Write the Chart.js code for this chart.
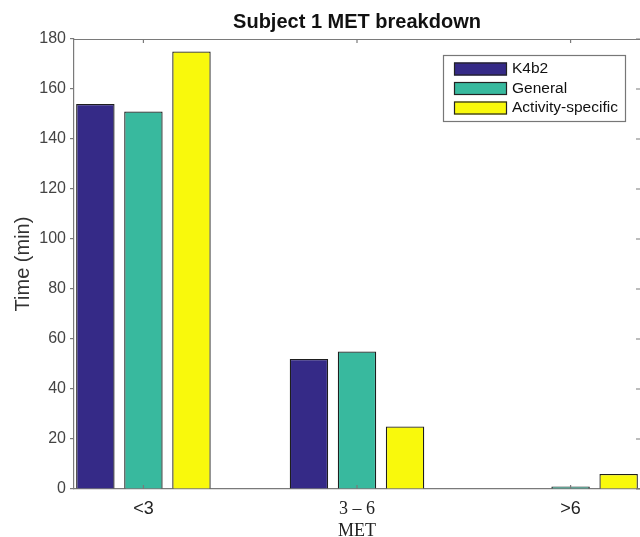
<!DOCTYPE html>
<html>
<head>
<meta charset="utf-8">
<script src="https://cdn.jsdelivr.net/npm/chart.js@4.4.0/dist/chart.umd.min.js"></script>
<style>
  body { margin: 0; background: #fff; }
  #metChart { display: block; }
</style>
</head>
<body>
<canvas id="metChart" width="640" height="537"></canvas>
<script>
// MET categories and times (min) per method
const categories = ['<3', '3 \u2013 6', '>6'];
const k4b2 = [154, 52, 0];
const general = [151, 55, 1];
const activitySpecific = [175, 25, 6];
const yTicks = [0, 20, 40, 60, 80, 100, 120, 140, 160, 180];

const chartTitle = 'Subject 1 MET breakdown';
const seriesNames = ['K4b2', 'General', 'Activity-specific'];
const seriesColors = ['#352a87', '#38b99e', '#f9f90c'];
const axisColor = '#7a7a7a';
const sans = '"Liberation Sans", Arial, sans-serif';
const serif = '"Liberation Serif", "Times New Roman", serif';

function toPoints(values) {
    return values.map((v, i) => ({ x: i + 1, y: v }));
}

// title over the plot box, box top line, inward ticks and the legend
const matlabFrame = {
    id: 'matlabFrame',
    afterDraw(chart) {
        const ctx = chart.ctx;
        const area = chart.chartArea;
        const xs = chart.scales.x;
        const ys = chart.scales.y;
        ctx.save();

        ctx.fillStyle = '#111';
        ctx.font = 'bold 20px ' + sans;
        ctx.textAlign = 'center';
        ctx.textBaseline = 'middle';
        ctx.fillText(chartTitle, (area.left + area.right) / 2, 22);

        ctx.strokeStyle = axisColor;
        ctx.lineWidth = 1.2;
        ctx.beginPath();
        ctx.moveTo(area.left, area.top + 0.5);
        ctx.lineTo(area.right, area.top + 0.5);
        for (let i = 0; i < categories.length; i++) {
            const px = xs.getPixelForValue(i + 1);
            ctx.moveTo(px, area.top);
            ctx.lineTo(px, area.top + 4);
            ctx.moveTo(px, area.bottom);
            ctx.lineTo(px, area.bottom - 4);
        }
        yTicks.forEach(v => {
            const py = ys.getPixelForValue(v);
            ctx.moveTo(area.right - 4, py);
            ctx.lineTo(area.right, py);
        });
        ctx.stroke();

        // legend
        const lx = 443, ly = 55, lw = 182, lh = 66;
        ctx.fillStyle = '#fff';
        ctx.fillRect(lx, ly, lw, lh);
        ctx.strokeStyle = '#777';
        ctx.lineWidth = 1.2;
        ctx.strokeRect(lx + 0.5, ly + 0.5, lw, lh);
        ctx.font = '15.5px ' + sans;
        ctx.textAlign = 'left';
        ctx.textBaseline = 'middle';
        for (let i = 0; i < seriesNames.length; i++) {
            const ry = ly + 14 + i * 19.5;
            ctx.fillStyle = seriesColors[i];
            ctx.fillRect(lx + 11, ry - 6.5, 53, 13);
            ctx.strokeStyle = '#222';
            ctx.lineWidth = 1.2;
            ctx.strokeRect(lx + 11.5, ry - 6, 52, 12);
            ctx.fillStyle = '#111';
            ctx.fillText(seriesNames[i], lx + 69, ry);
        }
        ctx.restore();
    }
};

const ctx = document.getElementById('metChart').getContext('2d');
const chart = new Chart(ctx, {
    type: 'bar',
    data: {
        datasets: [
            { label: seriesNames[0], data: toPoints(k4b2), backgroundColor: seriesColors[0] },
            { label: seriesNames[1], data: toPoints(general), backgroundColor: seriesColors[1] },
            { label: seriesNames[2], data: toPoints(activitySpecific), backgroundColor: seriesColors[2] }
        ]
    },
    options: {
        responsive: false,
        animation: false,
        devicePixelRatio: 1,
        layout: { padding: { left: 0, right: 0, top: 39, bottom: 0 } },
        datasets: {
            bar: {
                borderColor: '#1e1e1e',
                borderWidth: 1.3,
                categoryPercentage: 0.675,
                barPercentage: 0.8
            }
        },
        plugins: {
            legend: { display: false },
            tooltip: { enabled: false },
            title: { display: false }
        },
        scales: {
            x: {
                type: 'linear',
                offset: false,
                min: 0.675,
                max: 3.325,
                afterBuildTicks: (scale) => {
                    scale.ticks = categories.map((c, i) => ({ value: i + 1 }));
                },
                afterFit: (scale) => { scale.height = 48; },
                ticks: {
                    autoSkip: false,
                    maxRotation: 0,
                    padding: 9,
                    color: '#222',
                    font: (c) => ({
                        family: c.index === 1 ? serif : sans,
                        size: 18
                    }),
                    callback: (value) => categories[value - 1] || ''
                },
                grid: { display: false, drawTicks: false },
                border: { display: true, color: axisColor, width: 1.2 },
                title: {
                    display: true,
                    text: 'MET',
                    color: '#222',
                    font: { family: serif, size: 18 },
                    padding: { top: 0, bottom: -5 }
                }
            },
            y: {
                min: 0,
                max: 180,
                afterBuildTicks: (scale) => {
                    scale.ticks = yTicks.map(v => ({ value: v }));
                },
                afterFit: (scale) => { scale.width = 74; },
                ticks: {
                    padding: 4,
                    color: '#444',
                    font: { family: sans, size: 16 }
                },
                grid: {
                    display: true,
                    drawOnChartArea: false,
                    drawTicks: true,
                    tickLength: 4,
                    color: axisColor,
                    lineWidth: 1.2
                },
                border: { display: true, color: axisColor, width: 1.2 },
                title: {
                    display: true,
                    text: 'Time (min)',
                    color: '#333',
                    font: { family: sans, size: 20 },
                    padding: { top: 11.5, bottom: 0 }
                }
            }
        }
    },
    plugins: [matlabFrame]
});
</script>
</body>
</html>
